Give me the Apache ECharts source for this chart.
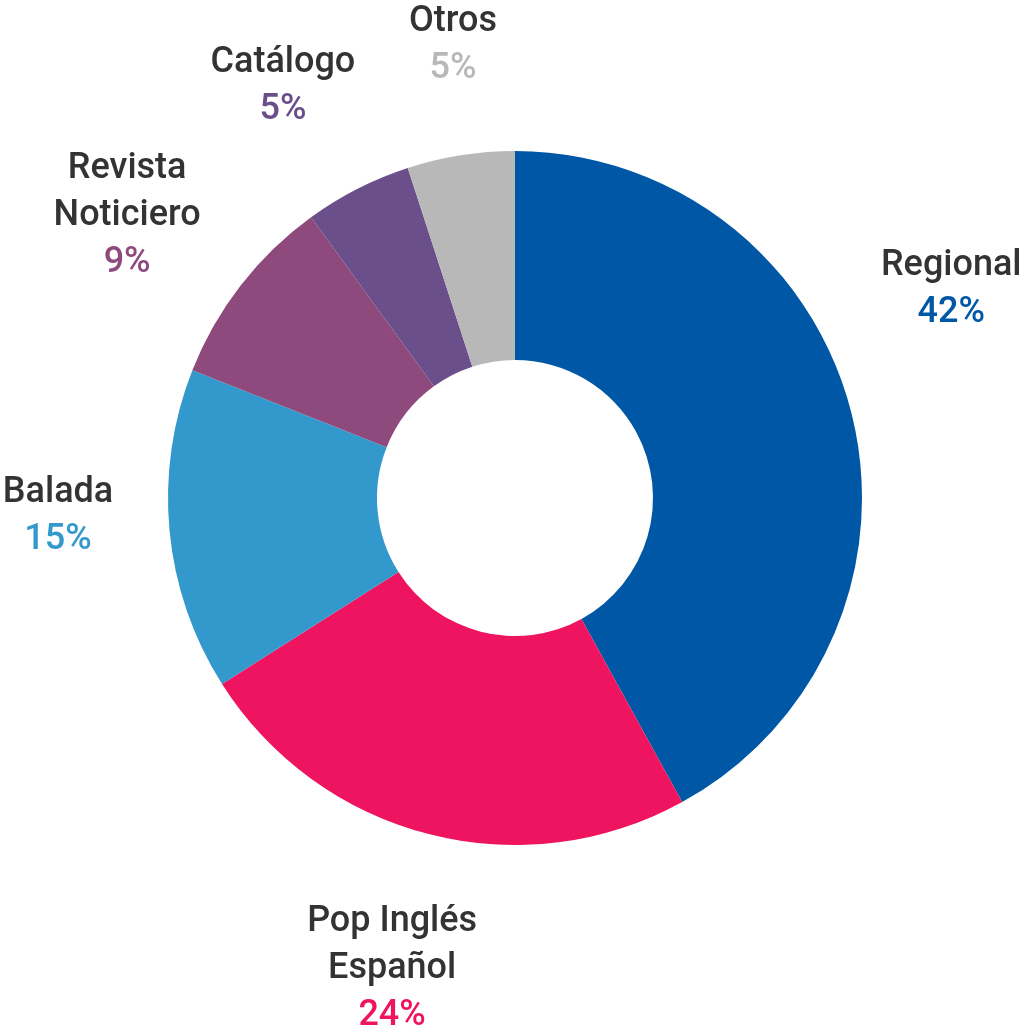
<!DOCTYPE html>
<html><head><meta charset="utf-8">
<script src="https://cdn.jsdelivr.net/npm/echarts@6/dist/echarts.min.js"></script>
<style>html,body{margin:0;padding:0;background:#fff}#c{width:1024px;height:1035px}</style>
</head><body><div id="c"></div>
<script>
var categories = ['Regional', 'Pop Inglés\nEspañol', 'Balada', 'Revista\nNoticiero', 'Catálogo', 'Otros'];
var values = [42, 24, 15, 9, 5, 5];
var colors = ['#0057A5', '#EE145F', '#3399CD', '#8E4A7D', '#6B4F8A', '#B8B8B8'];
// label placement style: distance from centre and extra shift (px)
var labelDist = [470, 470, 458, 482, 476, 460];
var labelShift = [[-19, -92], [-6, 16], [-1, -25], [-7, 13], [-16, 13], [10, 2]];

var CX = 515, CY = 498;
var total = values.reduce(function (a, b) { return a + b; }, 0);
var mids = [];
var acc = 0;
values.forEach(function (v) { mids.push((acc + v / 2) / total * 2 * Math.PI); acc += v; });

var chart = echarts.init(document.getElementById('c'), null, { renderer: 'canvas' });
var FS = 36, LH = 47;
var rich = { n: { fontFamily: 'Roboto', fontWeight: 500, fontSize: FS, color: '#333333', lineHeight: LH, align: 'center' } };
colors.forEach(function (c, i) {
  rich['p' + i] = { fontFamily: 'Roboto', fontWeight: 500, fontSize: FS, color: c, lineHeight: LH, align: 'center' };
});
chart.setOption({
  animation: false,
  series: [{
    type: 'pie',
    center: [CX, CY],
    radius: [138, 347],
    startAngle: 90,
    clockwise: true,
    data: categories.map(function (n, i) {
      return { name: n, value: values[i], itemStyle: { color: colors[i] } };
    }),
    labelLine: { show: false },
    label: {
      show: true,
      position: 'outside',
      overflow: 'none',
      width: 300,
      rich: rich,
      formatter: function (p) {
        var lines = p.name.split('\n').map(function (s) { return '{n|' + s + '}'; });
        return lines.join('\n') + '\n{p' + p.dataIndex + '|' + p.value + '%}';
      }
    },
    labelLayout: function (p) {
      var i = p.dataIndex, a = mids[i];
      return {
        x: CX + labelDist[i] * Math.sin(a) + labelShift[i][0],
        y: CY - labelDist[i] * Math.cos(a) + labelShift[i][1],
        align: 'center',
        verticalAlign: 'middle',
        hideOverlap: false,
        moveOverlap: false
      };
    }
  }]
});
</script></body></html>
